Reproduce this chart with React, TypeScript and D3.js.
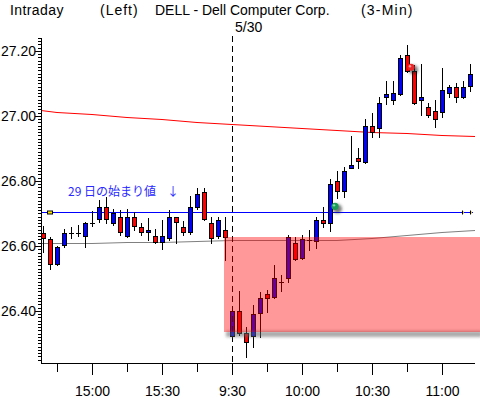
import { useEffect, useRef } from "react"
import * as d3 from "d3"

// 3-minute bars: previous session tail, then 5/30 morning
const times = [
  "14:39", "14:42", "14:45", "14:48", "14:51", "14:54", "14:57", "15:00", "15:03", "15:06",
  "15:09", "15:12", "15:15", "15:18", "15:21", "15:24", "15:27", "15:30", "15:33", "15:36",
  "15:39", "15:42", "15:45", "15:48", "15:51", "15:54", "15:57",
  "9:30", "9:33", "9:36", "9:39", "9:42", "9:45", "9:48", "9:51", "9:54", "9:57",
  "10:00", "10:03", "10:06", "10:09", "10:12", "10:15", "10:18", "10:21", "10:24", "10:27",
  "10:30", "10:33", "10:36", "10:39", "10:42", "10:45", "10:48", "10:51", "10:54", "10:57",
  "11:00", "11:03", "11:06", "11:09", "11:12",
]

const opens = [
  26.64, 26.622, 26.545, 26.603, 26.64, 26.64, 26.631, 26.671, 26.683, 26.72,
  26.671, 26.689, 26.631, 26.689, 26.658, 26.643, 26.631, 26.612, 26.625, 26.689,
  26.658, 26.643, 26.72, 26.766, 26.671, 26.631, 26.649,
  26.323, 26.4, 26.332, 26.323, 26.394, 26.452, 26.443, 26.489, 26.502, 26.609,
  26.563, 26.618, 26.615, 26.68, 26.671, 26.8, 26.769, 26.84, 26.871, 26.858,
  26.969, 26.963, 27.058, 27.049, 27.068, 27.188, 27.138, 27.049, 27.028, 27.015,
  27.012, 27.071, 27.089, 27.058, 27.092,
]

const highs = [
  26.662, 26.628, 26.6, 26.652, 26.658, 26.665, 26.674, 26.708, 26.742, 26.751,
  26.714, 26.711, 26.714, 26.705, 26.671, 26.686, 26.652, 26.68, 26.711, 26.689,
  26.677, 26.754, 26.778, 26.778, 26.689, 26.689, 26.689,
  26.415, 26.462, 26.351, 26.418, 26.458, 26.465, 26.542, 26.511, 26.634, 26.628,
  26.634, 26.649, 26.689, 26.72, 26.806, 26.831, 26.843, 26.938, 26.902, 26.991,
  27.009, 27.058, 27.108, 27.108, 27.188, 27.218, 27.157, 27.16, 27.04, 27.049,
  27.148, 27.095, 27.102, 27.108, 27.16,
]

const lows = [
  26.582, 26.529, 26.542, 26.597, 26.625, 26.631, 26.597, 26.662, 26.674, 26.671,
  26.665, 26.634, 26.628, 26.649, 26.634, 26.618, 26.609, 26.591, 26.618, 26.609,
  26.634, 26.637, 26.714, 26.68, 26.609, 26.625, 26.557,
  26.311, 26.326, 26.258, 26.289, 26.32, 26.397, 26.44, 26.462, 26.489, 26.557,
  26.56, 26.588, 26.594, 26.658, 26.646, 26.748, 26.751, 26.84, 26.84, 26.855,
  26.935, 26.935, 27.037, 27.037, 27.065, 27.135, 27.037, 27.003, 26.997, 26.966,
  26.997, 27.058, 27.043, 27.055, 27.077,
]

const closes = [
  26.625, 26.545, 26.597, 26.64, 26.64, 26.64, 26.671, 26.671, 26.72, 26.683,
  26.702, 26.643, 26.689, 26.662, 26.643, 26.649, 26.612, 26.631, 26.689, 26.674,
  26.643, 26.72, 26.76, 26.683, 26.625, 26.68, 26.628,
  26.4, 26.332, 26.305, 26.391, 26.44, 26.44, 26.502, 26.489, 26.628, 26.56,
  26.622, 26.618, 26.68, 26.671, 26.791, 26.769, 26.831, 26.849, 26.862, 26.969,
  26.951, 27.04, 27.068, 27.071, 27.178, 27.138, 27.04, 27.058, 27.003, 26.991,
  27.08, 27.089, 27.058, 27.089, 27.129,
]

// overlay lines (read every 15 minutes)
const lineTimes = ["14:39", "14:45", "15:00", "15:15", "15:30", "15:45", "9:30", "9:45", "10:00", "10:15", "10:30", "10:45", "11:00", "11:12"]
const redLineValues = [27.017, 27.012, 27.005, 26.996, 26.99, 26.983, 26.974, 26.968, 26.962, 26.956, 26.951, 26.947, 26.942, 26.938]
const grayLineValues = [26.609, 26.609, 26.609, 26.611, 26.612, 26.615, 26.618, 26.617, 26.617, 26.618, 26.625, 26.634, 26.642, 26.648]

const openLevel29 = 26.705
const boxTop = 26.628
const boxBottom = 26.335
const boxStart = "15:57"
const dayBreak = "9:30"
const greenMark = { t: "10:15", v: 26.722 }
const redMark = { t: "10:45", v: 27.15 }

const yTickLabels = [26.4, 26.6, 26.8, 27.0, 27.2]
const xTickTimes = ["14:45", "15:00", "15:15", "15:30", "15:45", "9:30", "9:45", "10:00", "10:15", "10:30", "10:45", "11:00"]
const xLabelTimes = ["15:00", "15:30", "9:30", "10:00", "10:30", "11:00"]

const W = 480
const H = 399
const FONT = "'Liberation Sans', Arial, sans-serif"

const App = () => {
  const svgRef = useRef<SVGSVGElement>(null)

  useEffect(() => {
    if (!svgRef.current) return
    const svg = d3.select(svgRef.current)
    svg.selectAll("*").remove()

    const left = 41
    const right = 475
    const top = 38
    const bottom = 363

    const x = d3.scalePoint<string>().domain(times).range([43, 470])
    const y = d3.scaleLinear().domain([26.24, 27.24]).range([bottom, top])
    const py = (v: number) => Math.round(y(v))

    const defs = svg.append("defs")
    defs.append("clipPath").attr("id", "plot").append("rect")
      .attr("x", left + 1).attr("y", top).attr("width", W - left).attr("height", bottom - top)
    defs.append("filter").attr("id", "soft").append("feGaussianBlur").attr("stdDeviation", 0.7)
    defs.append("filter").attr("id", "shadow").attr("x", "-20%").attr("y", "-200%").attr("width", "140%").attr("height", "500%")
      .append("feGaussianBlur").attr("stdDeviation", 1.8)
    defs.append("filter").attr("id", "glow").attr("x", "-100%").attr("y", "-100%").attr("width", "300%").attr("height", "300%")
      .append("feGaussianBlur").attr("stdDeviation", 1.6)

    const plot = svg.append("g").attr("clip-path", "url(#plot)")

    // moving lines, stretched to the plot edges
    const line = d3.line<number>()
      .x((_, i) => {
        const px = x(lineTimes[i]) as number
        if (i === 0) return left
        if (i === lineTimes.length - 1) return right
        return px
      })
      .y((d) => py(d) + 0.5)

    plot.append("path").datum(grayLineValues).attr("d", line)
      .attr("fill", "none").attr("stroke", "#808080").attr("stroke-width", 1)
    plot.append("path").datum(redLineValues).attr("d", line)
      .attr("fill", "none").attr("stroke", "#ff0000").attr("stroke-width", 1)

    // 29th opening level
    const yo = py(openLevel29) + 0.5
    plot.append("line").attr("x1", left).attr("x2", 473).attr("y1", yo).attr("y2", yo)
      .attr("stroke", "#0000ff").attr("stroke-width", 1)
    plot.append("rect").attr("x", 47.5).attr("y", yo - 1.5).attr("width", 5).attr("height", 3)
      .attr("fill", "#ffe800").attr("stroke", "#000").attr("stroke-width", 1)
    ;[462, 470].forEach((mx) => {
      plot.append("rect").attr("x", mx).attr("y", yo - 2).attr("width", 1).attr("height", 4).attr("fill", "#000")
      plot.append("rect").attr("x", mx + 1).attr("y", yo - 1).attr("width", 1).attr("height", 2).attr("fill", "#e0c000")
    })

    // candles
    const candles = plot.append("g")
    times.forEach((t, i) => {
      const cx = x(t) as number
      const o = opens[i]
      const c = closes[i]
      candles.append("line")
        .attr("x1", cx + 0.5).attr("x2", cx + 0.5)
        .attr("y1", py(highs[i])).attr("y2", py(lows[i]) + 1)
        .attr("stroke", "#000").attr("stroke-width", 1)
      const yt = py(Math.max(o, c))
      const yb = py(Math.min(o, c))
      if (yb - yt < 1) {
        candles.append("line")
          .attr("x1", cx - 2).attr("x2", cx + 3)
          .attr("y1", yt + 0.5).attr("y2", yt + 0.5)
          .attr("stroke", "#000").attr("stroke-width", 1)
      } else {
        candles.append("rect")
          .attr("x", cx - 1.5).attr("y", yt + 0.5)
          .attr("width", 4).attr("height", Math.max(1, yb - yt))
          .attr("fill", c >= o ? "#0000ff" : "#ff0000")
          .attr("stroke", "#000").attr("stroke-width", 1)
      }
    })

    // day separator
    const xd = (x(dayBreak) as number) + 0.5
    svg.append("line").attr("x1", xd).attr("x2", xd).attr("y1", 36).attr("y2", bottom)
      .attr("stroke", "#000").attr("stroke-width", 1).attr("stroke-dasharray", "6,4")

    // shaded range box
    const bx = (x(boxStart) as number) - 1
    const by0 = py(boxTop)
    const by1 = py(boxBottom)
    svg.append("rect").attr("x", bx + 2).attr("y", by1 - 1).attr("width", W - bx).attr("height", 6)
      .attr("fill", "#666").attr("opacity", 0.55).attr("filter", "url(#shadow)")
    svg.append("rect").attr("x", bx).attr("y", by0).attr("width", W - bx).attr("height", by1 - by0)
      .attr("fill", "rgba(255,0,0,0.4)").attr("filter", "url(#soft)")

    // glowing markers
    ;[
      { m: greenMark, dx: -2, fill: "#1c9a58", hi: "#7fe0a8" },
      { m: redMark, dx: 4, fill: "#e82828", hi: "#ff9a9a" },
    ].forEach(({ m, dx, fill, hi }) => {
      const mx = (x(m.t) as number) + dx
      const my = y(m.v)
      svg.append("circle").attr("cx", mx + 2.5).attr("cy", my + 2.5).attr("r", 4.5)
        .attr("fill", "#222").attr("opacity", 0.6).attr("filter", "url(#glow)")
      svg.append("circle").attr("cx", mx).attr("cy", my).attr("r", 3.6).attr("fill", fill)
      svg.append("circle").attr("cx", mx - 1).attr("cy", my - 1).attr("r", 1.2).attr("fill", hi)
    })

    // annotation
    svg.append("text").attr("x", 68).attr("y", 196)
      .attr("font-family", "'Noto Sans CJK JP', sans-serif").attr("font-size", 12).attr("fill", "#2a2aff")
      .text("29 日の始まり値")
    svg.append("text").attr("x", 173).attr("y", 196).attr("text-anchor", "middle")
      .attr("font-family", "'Noto Sans CJK JP', sans-serif").attr("font-size", 12).attr("fill", "#2a2aff")
      .text("↓")

    // y axis
    const ax = svg.append("g").attr("shape-rendering", "crispEdges")
    ax.append("line").attr("x1", left + 0.5).attr("x2", left + 0.5).attr("y1", top).attr("y2", bottom + 1)
      .attr("stroke", "#000")
    d3.range(2625, 2725).forEach((k) => {
      const ty = py(k / 100) + 0.5
      const major = k % 20 === 0
      ax.append("line").attr("x1", major ? 35 : 38).attr("x2", left).attr("y1", ty).attr("y2", ty)
        .attr("stroke", "#000")
    })
    svg.append("g").selectAll("text").data(yTickLabels).join("text")
      .attr("x", 36).attr("y", (d) => py(d) + 5)
      .attr("text-anchor", "end").attr("font-family", FONT).attr("font-size", 14).attr("fill", "#000")
      .text((d) => d3.format(".2f")(d))

    // x axis
    ax.append("line").attr("x1", left).attr("x2", right).attr("y1", bottom + 0.5).attr("y2", bottom + 0.5)
      .attr("stroke", "#000")
    xTickTimes.forEach((t) => {
      const tx = (x(t) as number) + 0.5
      const labeled = xLabelTimes.includes(t)
      ax.append("line").attr("x1", tx).attr("x2", tx).attr("y1", bottom).attr("y2", bottom + (labeled ? 12 : 9))
        .attr("stroke", "#000")
    })
    svg.append("g").selectAll("text").data(xLabelTimes).join("text")
      .attr("x", (d) => (x(d) as number) + 0.5).attr("y", 396)
      .attr("text-anchor", "middle").attr("font-family", FONT).attr("font-size", 14).attr("fill", "#000")
      .text((d) => d)

    // header
    const header = [
      { s: "Intraday", x: 10, y: 15, ls: 0.4 },
      { s: "(Left)", x: 100, y: 15, ls: 1 },
      { s: "DELL - Dell Computer Corp.", x: 155, y: 15, ls: 0 },
      { s: "(3-Min)", x: 361, y: 15, ls: 1.2 },
      { s: "5/30", x: 235, y: 32, ls: 0 },
    ]
    svg.append("g").selectAll("text").data(header).join("text")
      .attr("x", (d) => d.x).attr("y", (d) => d.y)
      .attr("letter-spacing", (d) => d.ls)
      .attr("font-family", FONT).attr("font-size", 14).attr("fill", "#000")
      .text((d) => d.s)
  }, [])

  return (
    <svg
      ref={svgRef}
      width={W}
      height={H}
      style={{ position: "absolute", left: 0, top: 0, background: "#fff", display: "block" }}
    />
  )
}

export default App
